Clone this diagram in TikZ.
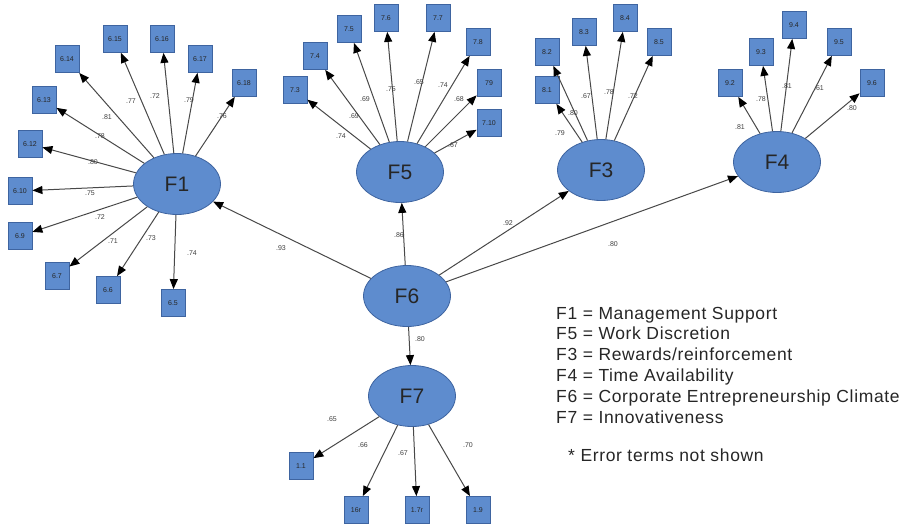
\documentclass[tikz,border=0pt]{standalone}
\usepackage{fontspec}
\setmainfont{Liberation Sans}
\newfontfamily\legendfont[LetterSpace=3.7]{Liberation Sans}
\usetikzlibrary{arrows.meta,shapes.geometric}
\definecolor{latentfill}{RGB}{94,140,206}
\definecolor{latentdraw}{RGB}{62,100,160}
\definecolor{edgegray}{RGB}{72,72,72}
\begin{document}
\begin{tikzpicture}[x=1pt,y=-1pt,
  latent/.style={ellipse, draw=latentdraw, fill=latentfill, line width=0.8pt,
    minimum width=87pt, minimum height=61pt, inner sep=0pt,
    font=\fontsize{21}{21}\selectfont, text=black!85},
  item/.style={rectangle, draw=latentdraw, fill=latentfill, line width=0.8pt,
    minimum width=24pt, minimum height=27pt, inner sep=0pt,
    font=\fontsize{7}{7}\selectfont, text=black!85},
  load/.style={draw=edgegray, line width=1pt,
    -{Triangle[length=10pt,width=8pt,color=black]}},
  coef/.style={font=\fontsize{7}{7}\selectfont, text=black!75, inner sep=0pt},
  legend/.style={font=\legendfont\fontsize{17.5}{17.5}\selectfont, text=black!85,
    anchor=base west, inner sep=0pt}]
\useasboundingbox (0,0) rectangle (914,530);

% latent factors
\node[latent] (F1) at (177,184) {F1};
\node[latent] (F5) at (400,172) {F5};
\node[latent] (F3) at (601,170) {F3};
\node[latent] (F4) at (777,162) {F4};
\node[latent] (F6) at (407,296) {F6};
\node[latent] (F7) at (412,396) {F7};

% indicators of F1
\foreach \n/\x/\y/\t in {i615/115/39/6.15, i616/162/39/6.16, i614/67/59/6.14,
    i617/200/59/6.17, i618/244/83/6.18, i613/44/100/6.13, i612/30/144/6.12,
    i610/20/191/6.10, i69/20/236/6.9, i67/57/276/6.7, i66/108/290/6.6,
    i65/173/303/6.5}
  {\node[item] (\n) at (\x,\y) {\t}; \draw[load] (F1) -- (\n);}

% indicators of F5
\foreach \n/\x/\y/\t in {i73/295/90/7.3, i74/315/56/7.4, i75/349/29/7.5,
    i76/386/18/7.6, i77/438/18/7.7, i78/478/42/7.8, i79/489/83/79,
    i710/489/123/7.10}
  {\node[item] (\n) at (\x,\y) {\t}; \draw[load] (F5) -- (\n);}

% indicators of F3
\foreach \n/\x/\y/\t in {i81/547/90/8.1, i82/547/52/8.2, i83/584/32/8.3,
    i84/625/18/8.4, i85/659/42/8.5}
  {\node[item] (\n) at (\x,\y) {\t}; \draw[load] (F3) -- (\n);}

% indicators of F4
\foreach \n/\x/\y/\t in {i92/730/83/9.2, i93/761/52/9.3, i94/794/25/9.4,
    i95/839/42/9.5, i96/872/83/9.6}
  {\node[item] (\n) at (\x,\y) {\t}; \draw[load] (F4) -- (\n);}

% indicators of F7
\foreach \n/\x/\y/\t in {i11/301/466/1.1, i16r/356/510/16r, i17r/417/510/1.7r,
    i19/478/510/1.9}
  {\node[item] (\n) at (\x,\y) {\t}; \draw[load] (F7) -- (\n);}

% second-order paths
\foreach \n in {F1,F5,F3,F4,F7}
  \draw[load] (F6) -- (\n);

% loadings
\foreach \x/\y/\t [count=\k] in {
    107/117/.81, 100/136/.78, 93/162/.80, 131/101/.77, 155/96/.72,
    189/100/.79, 222/116/.76, 90/193/.75, 100/217/.72, 113/241/.71,
    151/238/.73, 192/253/.74,
    341/136/.74, 354/116/.69, 365/99/.69, 391/89/.75, 419/82/.65,
    443/85/.74, 459/99/.68, 453/145/.67,
    560/133/.79, 573/113/.80, 586/96/.67, 609/92/.78, 633/96/.72,
    740/127/.81, 761/99/.78, 787/86/.81, 819/88/.61, 852/108/.80,
    332/419/.65, 363/445/.66, 403/453/.67, 468/445/.70,
    281/248/.93, 399/235/.86, 508/223/.92, 613/244/.80, 420/339/.80}
  \node[coef] (c\k) at (\x,\y) {\t};

% legend
\node[legend] (leg1) at (556,319) {F1 = Management Support};
\node[legend] (leg2) at (556,339.8) {F5 = Work Discretion};
\node[legend] (leg3) at (556,360.6) {F3 = Rewards/reinforcement};
\node[legend] (leg4) at (556,381.4) {F4 = Time Availability};
\node[legend] (leg5) at (556,402.2) {F6 = Corporate Entrepreneurship Climate};
\node[legend] (leg6) at (556,423) {F7 = Innovativeness};
\node[legend] (note) at (568,461) {* Error terms not shown};
\end{tikzpicture}
\end{document}
